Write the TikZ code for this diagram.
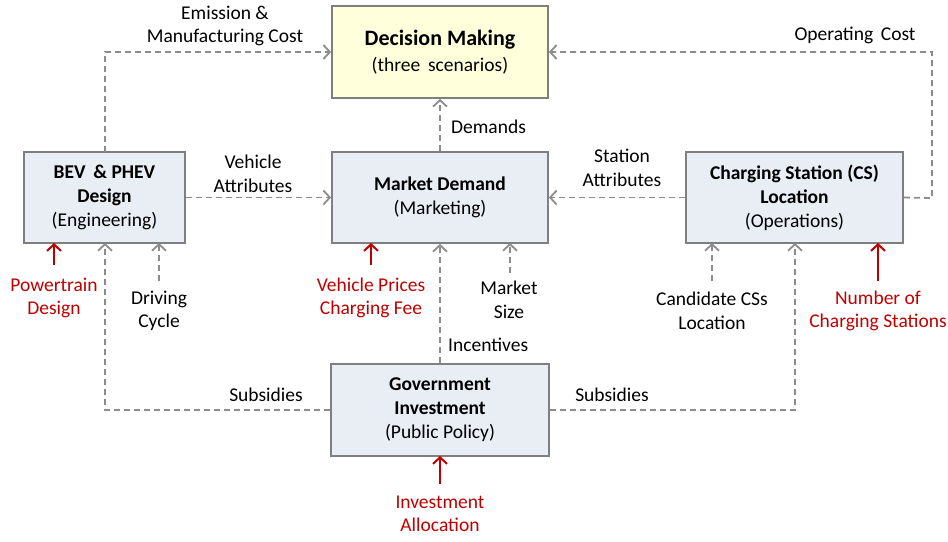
\documentclass[tikz,border=0pt]{standalone}
\usepackage{fontspec}
\setmainfont{Carlito}
\usetikzlibrary{arrows.meta}
\definecolor{boxgray}{HTML}{7F7F7F}
\definecolor{linegray}{HTML}{8C8C8C}
\definecolor{boxfill}{HTML}{E9EDF4}
\definecolor{dmfill}{HTML}{FFFFDB}
\definecolor{redc}{HTML}{C00000}
\begin{document}
\begin{tikzpicture}[x=1pt,y=-1pt,
  box/.style={draw=boxgray,line width=1.8pt,fill=boxfill,align=center,font=\fontsize{19.5}{24}\selectfont,inner sep=0pt},
  flow/.style={draw=linegray,line width=1.8pt,dash pattern=on 6pt off 4pt,-{Straight Barb[length=6.5pt,width=14pt,line width=1.8pt]}},
  redarrow/.style={draw=redc,line width=2pt,-{Straight Barb[length=6.5pt,width=14pt,line width=2pt]}},
  lbl/.style={align=center,font=\fontsize{19.5}{23.5}\selectfont,inner sep=0pt},
  rlbl/.style={lbl,text=redc}]
\useasboundingbox (0,0) rectangle (948,541);
% boxes
\node[box,fill=dmfill,minimum width=216pt,minimum height=92pt] (dm) at (440,52)
  {{\fontsize{22}{27}\selectfont\bfseries Decision Making}\\[2pt](three\, scenarios)};
\node[box,minimum width=161pt,minimum height=91pt] (bev) at (104.5,197.5)
  {\bfseries BEV\, \& PHEV\\\bfseries Design\\(Engineering)};
\node[box,minimum width=216pt,minimum height=91pt] (md) at (440,197.5)
  {\bfseries Market Demand\\(Marketing)};
\node[box,minimum width=217pt,minimum height=91pt] (cs) at (794.5,197.5)
  {\bfseries Charging Station (CS)\\\bfseries Location\\(Operations)};
\node[box,minimum width=218pt,minimum height=92pt] (gov) at (440,410)
  {\bfseries Government\\\bfseries Investment\\(Public Policy)};
% coordinates
\coordinate (bevtop) at (105,152);
\coordinate (c1) at (105,52);
\coordinate (c2) at (932,198);
\coordinate (c3) at (932,52);
\coordinate (c4) at (105,410);
\coordinate (c5) at (795,410);
\coordinate (bevbot) at (105,243);
\coordinate (csbot) at (795,243);
% dashed connectors
\draw[flow] (bevtop) -- (c1) -- (dm.west);
\draw[flow] (cs.east) -- (c2) -- (c3) -- (dm.east);
\draw[flow] (md.north) -- (dm.south);
\draw[flow] (bev.east) -- (md.west);
\draw[flow] (cs.west) -- (md.east);
\draw[flow] (gov.north) -- (md.south);
\draw[flow] (gov.west) -- (c4) -- (bevbot);
\draw[flow] (gov.east) -- (c5) -- (csbot);
% labels on connectors
\node[lbl] (l1) at (225,26) {Emission \&\\Manufacturing Cost};
\node[lbl] (l2) at (855,35) {Operating\, Cost};
\node[lbl,anchor=west] (l3) at (451,127) {Demands};
\node[lbl] (l4) at (253,174) {Vehicle\\Attributes};
\node[lbl] (l5) at (622,168) {Station\\Attributes};
\node[lbl,anchor=west] (l6) at (448,345) {Incentives};
\node[lbl] (l7) at (266,395) {Subsidies};
\node[lbl] (l8) at (612,395) {Subsidies};
% external inputs
\node[rlbl] (pd) at (54,298) {Powertrain\\Design};
\node[lbl] (dc) at (159,311) {Driving\\Cycle};
\node[rlbl] (vp) at (371,298) {Vehicle Prices\\Charging Fee};
\node[lbl] (ms) at (509,300) {Market\\Size};
\node[lbl] (cc) at (712,311) {Candidate CSs\\Location};
\node[rlbl] (nc) at (878,311) {Number of\\Charging Stations};
\node[rlbl] (ia) at (440,514) {Investment\\Allocation};
\coordinate (pdt) at (54,265);
\coordinate (pdb) at (54,243);
\coordinate (dct) at (159,281);
\coordinate (dcb) at (159,243);
\coordinate (vpt) at (371,265);
\coordinate (vpb) at (371,243);
\coordinate (mst) at (510,273);
\coordinate (msb) at (510,243);
\coordinate (cct) at (712,281);
\coordinate (ccb) at (712,243);
\coordinate (nct) at (878,281);
\coordinate (ncb) at (878,243);
\coordinate (iat) at (440,484);
\coordinate (iab) at (440,456);
\draw[redarrow] (pdt) -- (pdb);
\draw[flow] (dct) -- (dcb);
\draw[redarrow] (vpt) -- (vpb);
\draw[flow] (mst) -- (msb);
\draw[flow] (cct) -- (ccb);
\draw[redarrow] (nct) -- (ncb);
\draw[redarrow] (iat) -- (iab);
\end{tikzpicture}
\end{document}
